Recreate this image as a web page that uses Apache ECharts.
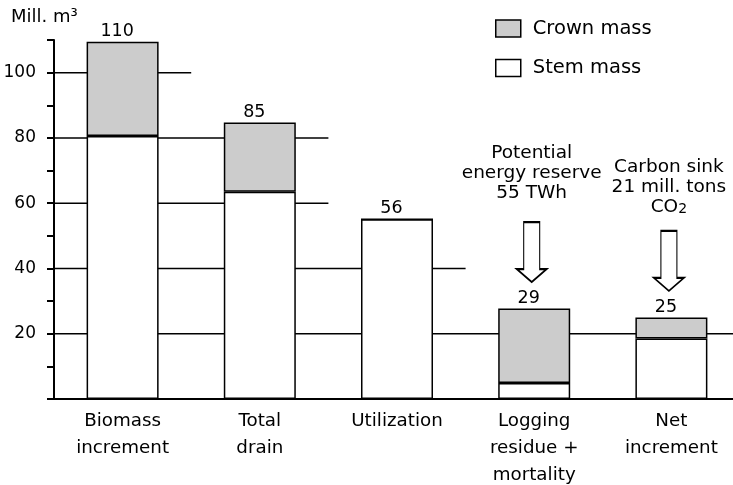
<!DOCTYPE html>
<html>
<head>
<meta charset="utf-8">
<script src="https://cdn.jsdelivr.net/npm/echarts@6/dist/echarts.min.js"></script>
<style>html,body{margin:0;padding:0;background:#fff}#c{width:733px;height:485px}</style>
</head>
<body>
<div id="c"></div>
<script>
var categories = ['Biomass\nincrement', 'Total\ndrain', 'Utilization', 'Logging\nresidue +\nmortality', 'Net\nincrement'];
var stemMass = [80.6, 63.5, 55.1, 4.9, 18.5];
var crownMass = [28.9, 21.2, 0, 22.8, 6.5];
var valueLabels = ['110', '85', '56', '29', '25'];
var annotationIndex = [3, 4];
var annotationText = ['Potential\nenergy reserve\n55 TWh', 'Carbon sink\n21 mill. tons\nCO{s|2}'];
var annotationGap = [18, 13];
var gridLevels = [20, 40, 60, 80, 100];

var FONT = "'DejaVu Sans', 'Liberation Sans', Arial, sans-serif";
var totals = stemMass.map(function (s, i) { return s + crownMass[i]; });

// staircase grid lines: each level runs until the first bar lower than it
var gridSeries = gridLevels.map(function (lv) {
  var end = categories.length;
  for (var i = 0; i < totals.length; i++) { if (totals[i] < lv) { end = i; break; } }
  return {
    type: 'line', xAxisIndex: 1, yAxisIndex: 0, silent: true, z: 1,
    symbol: 'none', animation: false,
    lineStyle: { color: '#000', width: 1.5 },
    data: [[0, lv], [end, lv]]
  };
});

var chart = echarts.init(document.getElementById('c'), null, { renderer: 'canvas' });
chart.setOption({
  animation: false,
  backgroundColor: '#fff',
  textStyle: { fontFamily: FONT, color: '#000' },
  grid: { left: 54, top: 40, width: 686, height: 359, containLabel: false, outerBoundsMode: 'none' },
  legend: {
    data: ['Crown mass', 'Stem mass'],
    orient: 'vertical', left: 495, top: 14.5, padding: 0,
    itemWidth: 25, itemHeight: 17, itemGap: 11.4, icon: 'rect',
    itemStyle: { borderColor: '#000', borderWidth: 1.5 },
    textStyle: { fontFamily: FONT, fontSize: 19.5, lineHeight: 20, color: '#000', padding: [8, 0, 0, 7] }
  },
  graphic: [{
    type: 'text', x: 11, y: 17,
    style: { text: 'Mill. m\u00b3', font: '18px ' + FONT, fill: '#000', verticalAlign: 'middle', align: 'left' }
  }],
  xAxis: [{
    type: 'category', data: categories, boundaryGap: true,
    axisLine: { lineStyle: { color: '#000', width: 2 } },
    axisTick: { alignWithLabel: true, length: 5, lineStyle: { color: '#000', width: 1.5 } },
    axisLabel: { interval: 0, fontSize: 18.3, lineHeight: 27, margin: 9, color: '#000', fontFamily: FONT },
    splitLine: { show: false }
  }, {
    type: 'value', min: 0, max: categories.length, show: false
  }],
  yAxis: {
    type: 'value', min: 0, max: 110, interval: 10,
    axisLine: { show: true, lineStyle: { color: '#000', width: 2 } },
    axisTick: { show: true, length: 7, lineStyle: { color: '#000', width: 2 } },
    axisLabel: {
      margin: 18, fontSize: 17, color: '#000', fontFamily: FONT,
      formatter: function (v) { return (v > 0 && v <= 100 && v % 20 === 0) ? String(v) : ''; }
    },
    splitLine: { show: false }
  },
  series: gridSeries.concat([
    {
      name: 'Stem mass', type: 'bar', stack: 'm', barWidth: 72, z: 3,
      itemStyle: { color: '#fff', borderColor: '#000', borderWidth: 1.5 },
      data: stemMass
    },
    {
      name: 'Crown mass', type: 'bar', stack: 'm', barWidth: 72, z: 3,
      itemStyle: { color: '#cccccc', borderColor: '#000', borderWidth: 1.5 },
      label: {
        show: true, position: 'top', distance: 1, offset: [-5.5, 0], fontSize: 17.5, color: '#000', fontFamily: FONT,
        formatter: function (p) { return valueLabels[p.dataIndex]; }
      },
      data: crownMass,
      markPoint: {
        silent: true,
        symbol: 'path://M7,0 L23,0 L23,47 L30,47 L15,60 L0,47 L7,47 Z',
        symbolSize: [30, 60],
        symbolOffset: [-2.5, -56.5],
        itemStyle: { color: '#fff', borderColor: '#000', borderWidth: 1.5 },
        label: {
          show: true, position: 'top', distance: 18, fontSize: 18.5, lineHeight: 20,
          color: '#000', fontFamily: FONT,
          formatter: function (p) { return p.name; },
          rich: { s: { fontSize: 14, lineHeight: 6, verticalAlign: 'bottom', fontFamily: FONT, color: '#000' } }
        },
        data: annotationIndex.map(function (ci, k) {
          return { name: annotationText[k], coord: [categories[ci], totals[ci]], label: { distance: annotationGap[k] } };
        })
      }
    }
  ])
});
</script>
</body>
</html>
